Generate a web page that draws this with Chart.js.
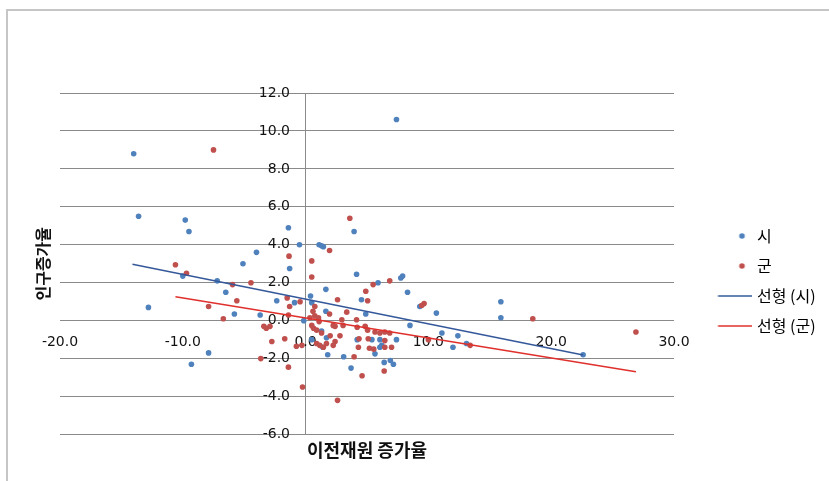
<!DOCTYPE html>
<html>
<head>
<meta charset="utf-8">
<script src="https://cdn.jsdelivr.net/npm/chart.js@4.4.1/dist/chart.umd.min.js"></script>
<style>
  html, body { margin: 0; padding: 0; background: #fff; }
  #wrap { position: relative; width: 829px; height: 481px; overflow: hidden; }
  #frame { position: absolute; left: 6px; top: 9px; width: 900px; height: 600px;
           border-left: 2px solid #c6c6c6; border-top: 2px solid #c6c6c6; }
  #c { position: absolute; left: 0; top: 0; }
</style>
</head>
<body>
<div id="wrap"><div id="frame"></div><canvas id="c" width="829" height="481"></canvas></div>
<script>
// 이전재원 증가율 (x) vs 인구증가율 (y), 시 / 군
const seriesNames = ['시', '군', '선형 (시)', '선형 (군)'];
const xTitle = '이전재원 증가율';
const yTitle = '인구증가율';

const siPoints = [
  [-14.0, 8.8], [-13.6, 5.5], [-12.8, 0.7], [-9.8, 5.3], [-9.5, 4.7], [-10.0, 2.35],
  [-9.3, -2.3], [-7.9, -1.7], [-7.2, 2.1], [-6.5, 1.5], [-5.8, 0.35], [-5.1, 3.0],
  [-4.0, 3.6], [-3.7, 0.3], [-2.35, 1.05], [-1.4, 4.9], [-1.3, 2.75], [-0.5, 4.0],
  [-0.9, 0.95], [-0.15, 0.0], [0.4, 1.3], [0.5, 0.95], [0.5, -1.0], [1.1, 4.0],
  [1.3, 3.95], [1.45, 3.9], [1.65, 1.65], [1.65, 0.5], [1.3, -0.55], [1.7, -0.9],
  [1.4, -1.4], [1.8, -1.8], [3.1, -1.9], [3.7, -2.5], [3.95, 4.7], [4.15, 2.45],
  [4.55, 1.1], [4.2, -1.0], [4.9, 0.35], [5.4, -1.0], [5.9, 2.0], [6.05, -1.0],
  [6.2, -1.3], [5.65, -1.75], [6.05, -1.4], [6.4, -2.2], [6.9, -2.1], [7.15, -2.3],
  [7.4, -1.0], [7.4, 10.6], [7.75, 2.25], [7.9, 2.35], [8.3, 1.5], [8.5, -0.25],
  [9.3, 0.75], [10.65, 0.4], [11.1, -0.65], [12.4, -0.8], [12.0, -1.4], [13.1, -1.2],
  [15.9, 1.0], [15.9, 0.15], [22.6, -1.8]
];

const gunPoints = [
  [-10.6, 2.95], [-9.7, 2.5], [-7.5, 9.0], [-7.9, 0.75], [-6.7, 0.1], [-5.95, 1.9],
  [-5.6, 1.05], [-4.45, 2.0], [-3.65, -2.0], [-3.4, -0.3], [-3.2, -0.4], [-2.9, -0.3],
  [-2.75, -1.1], [-1.7, -0.95], [-1.5, 1.2], [-1.4, 0.3], [-1.3, 0.75], [-1.35, 3.4],
  [-1.4, -2.45], [-0.75, -1.35], [-0.3, -1.3], [-0.45, 1.0], [-0.25, -3.5], [0.5, 3.15],
  [0.5, 2.3], [0.75, 0.75], [0.6, 0.5], [0.35, 0.15], [0.75, 0.25], [1.05, 0.15],
  [0.5, -0.25], [0.65, -0.4], [1.1, -0.05], [0.9, -0.5], [1.3, -0.65], [0.9, -1.2],
  [1.15, -1.3], [1.45, -1.4], [1.7, -1.2], [1.95, 0.35], [1.95, 3.7], [2.0, -0.8],
  [2.25, -0.25], [2.4, -0.3], [2.4, -1.1], [2.25, -1.3], [2.6, 1.1], [2.8, -0.8],
  [2.95, 0.05], [3.05, -0.25], [3.35, 0.45], [3.6, 5.4], [2.6, -4.2], [3.95, -1.9],
  [4.15, 0.05], [4.2, -0.35], [4.35, -0.95], [4.3, -1.4], [4.6, -2.9], [4.85, -0.3],
  [4.9, 1.55], [5.05, 1.05], [5.05, -0.5], [5.1, -0.95], [5.2, -1.45], [5.5, 1.9],
  [5.55, -1.5], [5.65, -0.6], [6.05, -0.65], [6.45, -0.6], [6.45, -1.05], [6.45, -1.4],
  [6.4, -2.65], [6.85, 2.1], [6.85, -0.65], [7.0, -1.4], [9.45, 0.8], [9.65, 0.9],
  [10.0, -1.0], [13.4, -1.3], [18.5, 0.1], [26.9, -0.6]
];

// linear trend lines, start and end of each fitted line
const trendSi = [[-14.1, 2.97], [22.6, -1.81]];
const trendGun = [[-10.6, 1.26], [26.9, -2.69]];

const xRange = [-20, 30];
const yRange = [-6, 12];
const xStep = 10;
const yStep = 2;

const BLUE = '#4f81bd';
const RED = '#c0504d';
const BLUE_LINE = '#34589a';
const RED_LINE = '#e0302c';
const GRID = '#8a8a8a';
const NUM_FONT = 'DejaVu Sans';
const KR_FONT = 'Noto Sans CJK KR';

const toXY = arr => arr.map(([x, y]) => ({ x, y }));

// small legend swatches: a dot or a short line segment
function swatch(kind, color) {
  const c = document.createElement('canvas');
  c.width = 66; c.height = 8;
  const g = c.getContext('2d');
  if (kind === 'dot') {
    g.fillStyle = color;
    g.beginPath(); g.arc(56.5, 4, 2.8, 0, Math.PI * 2); g.fill();
  } else {
    g.strokeStyle = color; g.lineWidth = 1.5;
    g.beginPath(); g.moveTo(32.5, 4); g.lineTo(66, 4); g.stroke();
  }
  return c;
}
const swatches = [swatch('dot', BLUE), swatch('dot', RED), swatch('line', BLUE_LINE), swatch('line', RED_LINE)];

const fmt = v => Number(v).toFixed(1);

// the crossing axes should not reserve layout space
function collapse(dim) {
  return s => {
    s[dim] = 0;
    s.paddingLeft = s.paddingRight = s.paddingTop = s.paddingBottom = 0;
  };
}

const titleOnlyAxis = (position, text, size, padding) => ({
  type: 'linear', position, display: true,
  grid: { display: false, drawTicks: false }, border: { display: false }, ticks: { display: false },
  title: { display: true, text, color: '#111',
           font: { family: KR_FONT, size, weight: 'bold' }, padding }
});

new Chart(document.getElementById('c'), {
  type: 'scatter',
  data: {
    datasets: [
      { label: seriesNames[0], data: toXY(siPoints), backgroundColor: BLUE, borderWidth: 0,
        pointRadius: 2.8, pointHoverRadius: 2.8, order: 3 },
      { label: seriesNames[1], data: toXY(gunPoints), backgroundColor: RED, borderWidth: 0,
        pointRadius: 2.8, pointHoverRadius: 2.8, order: 2 },
      { label: seriesNames[2], data: toXY(trendSi), showLine: true, borderColor: BLUE_LINE,
        borderWidth: 1.5, pointRadius: 0, fill: false, order: 1 },
      { label: seriesNames[3], data: toXY(trendGun), showLine: true, borderColor: RED_LINE,
        borderWidth: 1.5, pointRadius: 0, fill: false, order: 1 }
    ]
  },
  options: {
    responsive: false,
    animation: false,
    devicePixelRatio: 1,
    layout: { padding: { left: 33, top: 93, right: 9, bottom: 12 } },
    scales: {
      x: {
        type: 'linear', position: { y: 0 }, min: xRange[0], max: xRange[1],
        // only the zero line is drawn: it is the vertical axis
        grid: { display: true, drawTicks: false, lineWidth: 1,
                color: ctx => (ctx.tick && Math.abs(ctx.tick.value) < 1e-9 ? GRID : 'rgba(0,0,0,0)') },
        border: { display: false },
        ticks: { stepSize: xStep, padding: 13, callback: fmt, color: '#111',
                 font: { family: NUM_FONT, size: 14 } },
        afterFit: collapse('height')
      },
      y: {
        type: 'linear', position: { x: -1.27 }, min: yRange[0], max: yRange[1],
        grid: { color: GRID, lineWidth: 1, drawTicks: false },
        border: { display: false },
        ticks: { stepSize: yStep, padding: 19, callback: fmt, color: '#111',
                 font: { family: NUM_FONT, size: 14 } },
        afterFit: collapse('width')
      },
      xTitle: titleOnlyAxis('bottom', xTitle, 18, { top: 4.7, bottom: 8.2 }),
      yTitle: titleOnlyAxis('left', yTitle, 16, { top: 0, bottom: 7.8 })
    },
    plugins: {
      tooltip: { enabled: false },
      legend: {
        position: 'right',
        align: 'center',
        maxWidth: 146,
        labels: {
          usePointStyle: true,
          pointStyleWidth: 61,
          padding: 14,
          color: '#111',
          font: { family: KR_FONT, size: 16 },
          generateLabels: () => seriesNames.map((name, i) => ({
            text: name, pointStyle: swatches[i], fillStyle: 'transparent',
            strokeStyle: 'transparent', lineWidth: 0, hidden: false, datasetIndex: i
          }))
        }
      }
    }
  }
});
</script>
</body>
</html>
